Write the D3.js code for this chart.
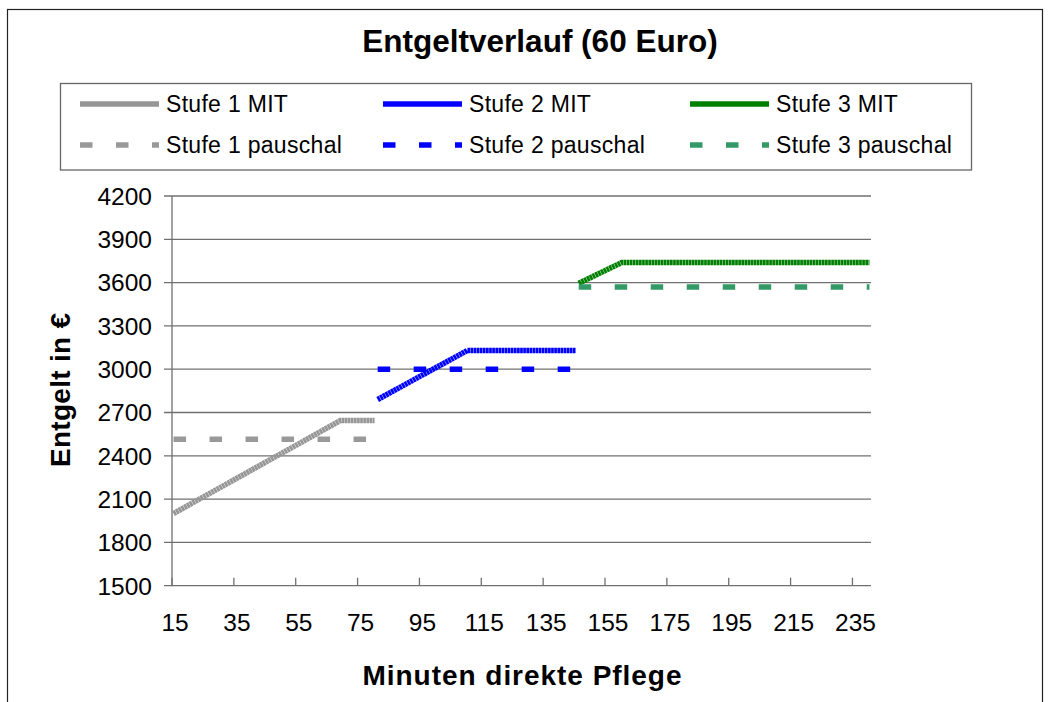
<!DOCTYPE html>
<html>
<head>
<meta charset="utf-8">
<script src="https://cdn.jsdelivr.net/npm/d3@7"></script>
<style>
  html, body { margin: 0; padding: 0; background: #fff; }
  svg { display: block; font-family: "Liberation Sans", Arial, sans-serif; }
</style>
</head>
<body>
<svg id="chart" width="1052" height="702"></svg>
<script>
// ---- data ----
const minuteRange = [15, 240];                       // categories: every minute 15..240
const xTickLabels = [15, 35, 55, 75, 95, 115, 135, 155, 175, 195, 215, 235];
const yTickValues = [1500, 1800, 2100, 2400, 2700, 3000, 3300, 3600, 3900, 4200];

const stufe1MitMin = [15, 69, 80];
const stufe1MitVal = [2000, 2645, 2645];
const stufe1PauMin = [15, 80];
const stufe1PauVal = [2515, 2515];

const stufe2MitMin = [81, 110, 145];
const stufe2MitVal = [2790, 3130, 3130];
const stufe2PauMin = [81, 145];
const stufe2PauVal = [3000, 3000];

const stufe3MitMin = [146, 160, 240];
const stufe3MitVal = [3595, 3740, 3740];
const stufe3PauMin = [146, 240];
const stufe3PauVal = [3570, 3570];

const seriesNames = ["Stufe 1 MIT", "Stufe 2 MIT", "Stufe 3 MIT",
                     "Stufe 1 pauschal", "Stufe 2 pauschal", "Stufe 3 pauschal"];

// ---- build ----
const zip = (xs, ys) => xs.map((m, i) => ({m, v: ys[i]}));
const series = [
  {name: seriesNames[0], pts: zip(stufe1MitMin, stufe1MitVal), color: "#969696", dashed: false},
  {name: seriesNames[1], pts: zip(stufe2MitMin, stufe2MitVal), color: "#0000FF", dashed: false},
  {name: seriesNames[2], pts: zip(stufe3MitMin, stufe3MitVal), color: "#008000", dashed: false},
  {name: seriesNames[3], pts: zip(stufe1PauMin, stufe1PauVal), color: "#999999", dashed: true},
  {name: seriesNames[4], pts: zip(stufe2PauMin, stufe2PauVal), color: "#0000FF", dashed: true},
  {name: seriesNames[5], pts: zip(stufe3PauMin, stufe3PauVal), color: "#339966", dashed: true}
];

const svg = d3.select("#chart");

// outer frame
svg.append("rect").attr("x", 7.5).attr("y", 9.5).attr("width", 1035).attr("height", 720)
  .attr("fill", "none").attr("stroke", "#222").attr("stroke-width", 1.2);

// title
svg.append("text").attr("x", 540).attr("y", 52).attr("text-anchor", "middle")
  .attr("font-size", 31.5).attr("font-weight", "bold").attr("fill", "#000")
  .text("Entgeltverlauf (60 Euro)");

// scales (category i spans [i-0.5, i+0.5])
const x = d3.scaleLinear().domain([minuteRange[0] - 0.5, minuteRange[1] + 0.5]).range([172, 871]);
const y = d3.scaleLinear().domain([1500, 4200]).range([585.7, 196]);

// gridlines + y ticks
const g = svg.append("g");
g.selectAll("line.grid").data(yTickValues).join("line")
  .attr("x1", 164).attr("x2", 871)
  .attr("y1", d => y(d)).attr("y2", d => y(d))
  .attr("stroke", "#707070").attr("stroke-width", 1.3);

// y axis line
g.append("line").attr("x1", 172).attr("x2", 172).attr("y1", y(4200)).attr("y2", y(1500) + 0.5)
  .attr("stroke", "#707070").attr("stroke-width", 1.3);

// y labels
g.selectAll("text.ylab").data(yTickValues).join("text")
  .attr("x", 152).attr("y", d => y(d)).attr("dy", "0.36em")
  .attr("text-anchor", "end").attr("font-size", 24.5).attr("fill", "#000")
  .text(d => d);

// x ticks (at category boundaries, pointing up) and labels
g.selectAll("line.xt").data(xTickLabels).join("line")
  .attr("x1", d => x(d - 0.5)).attr("x2", d => x(d - 0.5))
  .attr("y1", y(1500) - 8).attr("y2", y(1500))
  .attr("stroke", "#707070").attr("stroke-width", 1.3);
g.selectAll("text.xlab").data(xTickLabels).join("text")
  .attr("x", d => x(d) + 1.5).attr("y", 631)
  .attr("text-anchor", "middle").attr("font-size", 24.5).attr("fill", "#000")
  .text(d => d);

// axis titles
svg.append("text").attr("x", 522).attr("y", 685).attr("text-anchor", "middle")
  .attr("font-size", 28).attr("font-weight", "bold").attr("fill", "#000")
  .attr("textLength", 319).attr("lengthAdjust", "spacing")
  .text("Minuten direkte Pflege");
svg.append("text").attr("transform", "translate(70,390) rotate(-90)")
  .attr("text-anchor", "middle").attr("font-size", 28).attr("font-weight", "bold").attr("fill", "#000")
  .attr("textLength", 154).attr("lengthAdjust", "spacing")
  .text("Entgelt in €");

// series
const line = d3.line().x(d => x(d.m)).y(d => y(d.v));
const plot = svg.append("g");
series.forEach(s => {
  plot.append("path").attr("d", line(s.pts))
    .attr("fill", "none").attr("stroke", s.color)
    .attr("stroke-width", 5.5)
    .attr("stroke-linecap", "butt").attr("stroke-linejoin", "miter")
    .attr("stroke-dasharray", s.dashed ? "12.5 23.5" : "2.7 0.4");
});

// legend
const lg = svg.append("g");
lg.append("rect").attr("x", 60.5).attr("y", 83.5).attr("width", 911).attr("height", 86.5)
  .attr("fill", "#fff").attr("stroke", "#666").attr("stroke-width", 1.3);
const colSym = [80, 383, 690];
const rowY = [104, 145];
series.forEach((s, i) => {
  const col = i % 3, row = Math.floor(i / 3);
  const x0 = colSym[col], yy = rowY[row];
  lg.append("line").attr("x1", x0).attr("x2", x0 + 79).attr("y1", yy).attr("y2", yy)
    .attr("stroke", s.color).attr("stroke-width", 5.5)
    .attr("stroke-dasharray", s.dashed ? "12.5 23.5" : null);
  lg.append("text").attr("x", x0 + 86).attr("y", yy).attr("dy", "0.36em")
    .attr("font-size", 23).attr("letter-spacing", 0.3).attr("fill", "#000").text(s.name);
});
</script>
</body>
</html>
